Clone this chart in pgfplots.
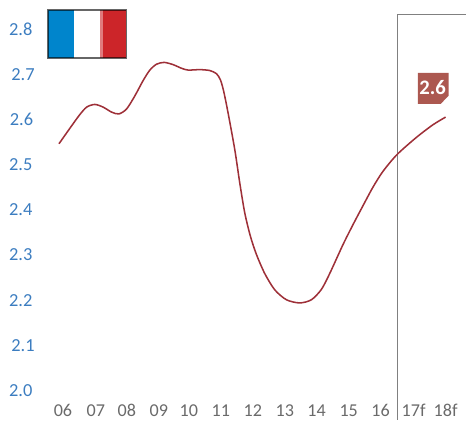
\documentclass[border=0pt]{standalone}
\usepackage{pgfplots}
\pgfplotsset{compat=1.18}
\usepackage{fontspec}
\setmainfont{Carlito}
\definecolor{ylab}{HTML}{3C7DC0}
\definecolor{xlab}{HTML}{6A6A6A}
\definecolor{curve}{HTML}{9E3038}
\definecolor{fblue}{HTML}{0085CC}
\definecolor{fred}{HTML}{CC2529}
\definecolor{flight}{HTML}{E07B7E}
\definecolor{badge}{HTML}{AC5850}
\begin{document}
\begin{tikzpicture}
\begin{axis}[
  scale only axis, width=349.5pt, height=315pt,
  xmin=4.025, xmax=18.633, ymin=1.936, ymax=2.864,
  axis line style={draw=none},
  major tick length=0pt,
  tick style={draw=none},
  xtick={6,7.034,8.006,9.009,9.95,10.953,11.956,12.96,13.96,14.966,15.969,17.003,18.006},
  xticklabels={06,07,08,09,10,11,12,13,14,15,16,17f,18f},
  ytick={2.0,2.1,2.2,2.3,2.4,2.5,2.6,2.7,2.8},
  yticklabels={2.0,\hspace*{3.4pt}2.1,2.2,2.3,2.4,2.5,\hspace*{1pt}2.6,\hspace*{3.4pt}2.7,2.8},
  x tick label style={anchor=center, yshift=7pt, font=\fontsize{13.6}{14}\selectfont, text=xlab, inner sep=0pt},
  y tick label style={anchor=center, xshift=15.6pt, font=\fontsize{13.8}{14}\selectfont, text=ylab, inner sep=0pt},
  clip=false,
]
\addplot[draw=black!50, line width=0.65pt] coordinates {(16.486,1.936) (16.486,2.833) (18.633,2.833)};
\addplot[curve, line width=1.15pt, smooth, tension=0.45] coordinates {
(5.875,2.546)(6.48,2.606)(6.743,2.627)(7.003,2.633)(7.263,2.627)(7.527,2.616)(7.755,2.612)(7.997,2.623)
(8.257,2.652)(8.517,2.686)(8.727,2.709)(8.937,2.722)(9.176,2.726)(9.458,2.721)(9.721,2.713)(9.928,2.709)(10.295,2.710)
(10.608,2.708)(10.818,2.701)(10.944,2.687)(11.047,2.661)(11.182,2.614)(11.392,2.533)(11.549,2.459)(11.705,2.393)
(11.884,2.341)(12.072,2.301)(12.332,2.259)(12.646,2.223)(13.013,2.201)(13.429,2.194)(13.796,2.201)(14.11,2.224)
(14.37,2.259)(14.787,2.323)(15.1,2.367)(15.414,2.409)(15.727,2.450)(16.041,2.485)(16.48,2.522)(17.088,2.560)
(17.608,2.588)(18.006,2.605)};
% flag
\fill[fblue] (rel axis cs:.103,.9762) rectangle (rel axis cs:.1588,.8619);
\fill[white] (rel axis cs:.1588,.9762) rectangle (rel axis cs:.2146,.8619);
\fill[flight] (rel axis cs:.2146,.9762) rectangle (rel axis cs:.221,.8619);
\fill[fred] (rel axis cs:.221,.9762) rectangle (rel axis cs:.2715,.8619);
\draw[black, opacity=.6, line width=1pt] (rel axis cs:.103,.9762) rectangle (rel axis cs:.2715,.8619);
% badge
\fill[badge] (rel axis cs:.8976,.8262) -- (rel axis cs:.9635,.8262) -- (rel axis cs:.9635,.7714) -- (rel axis cs:.9464,.7524) -- (rel axis cs:.8976,.7524) -- cycle;
\node[text=white, font=\fontsize{15.5}{16}\selectfont\bfseries, inner sep=0pt] at (rel axis cs:.9292,.7905) {2.6};
\end{axis}
\end{tikzpicture}
\end{document}
